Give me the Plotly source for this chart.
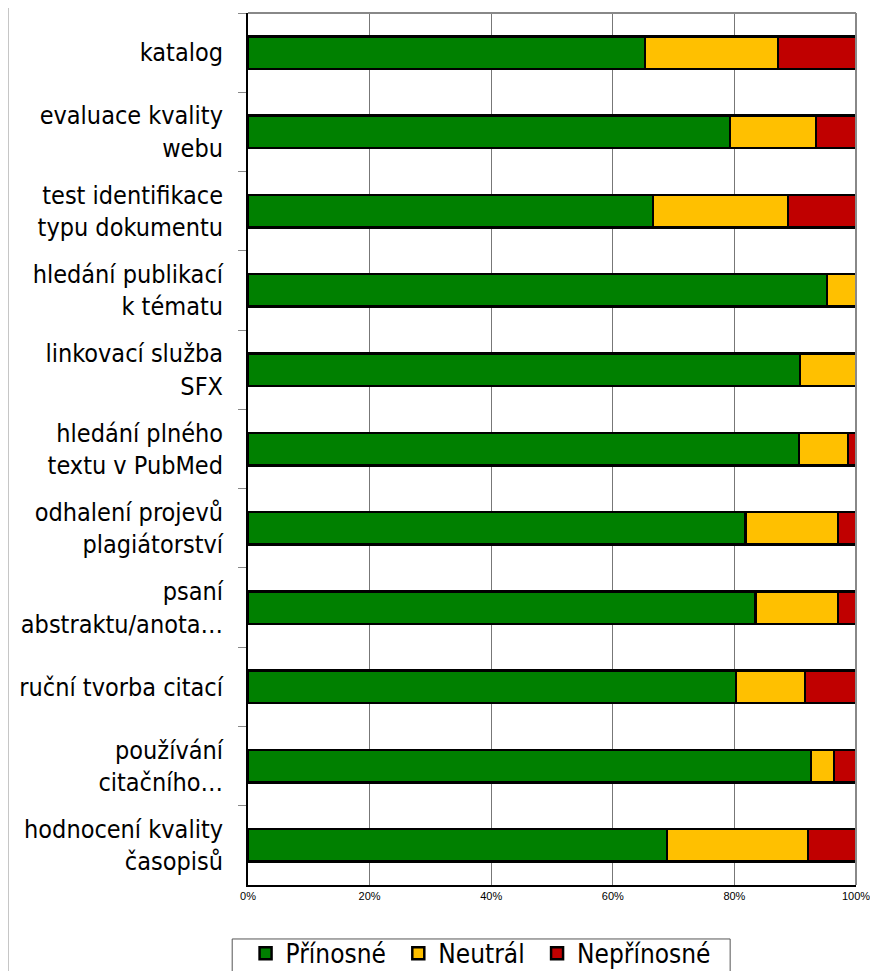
import plotly.graph_objects as go

categories = [
    "katalog",
    "evaluace kvality<br>webu",
    "test identifikace<br>typu dokumentu",
    "hledání publikací<br>k tématu",
    "linkovací služba<br>SFX",
    "hledání plného<br>textu v PubMed",
    "odhalení projevů<br>plagiátorství",
    "psaní<br>abstraktu/anota…",
    "ruční tvorba citací",
    "používání<br>citačního…",
    "hodnocení kvality<br>časopisů",
]
prinosne = [65.3, 79.3, 66.6, 95.2, 90.8, 90.6, 81.8, 83.5, 80.3, 92.6, 68.9]
neutral = [21.9, 14.1, 22.2, 4.8, 9.2, 8.1, 15.2, 13.5, 11.3, 3.8, 23.2]
neprinosne = [12.8, 6.6, 11.2, 0.0, 0.0, 1.3, 3.0, 3.0, 8.4, 3.6, 7.9]

series_names = ["Přínosné", "Neutrál", "Nepřínosné"]
series_colors = ["#008000", "#FFC000", "#C00000"]
series_values = [prinosne, neutral, neprinosne]
legend_pad = ["\u00a0", "\u00a0", ""]

fig = go.Figure()
for name, vals, col, pad in zip(series_names, series_values, series_colors, legend_pad):
    fig.add_trace(go.Bar(
        name=name + pad, y=categories, x=vals, orientation="h",
        marker=dict(color=col, line=dict(color="black", width=2.5)),
        width=0.41,
    ))

fig.update_layout(
    barmode="stack",
    width=878, height=1010,
    margin=dict(l=240, r=30, t=5, b=133),
    paper_bgcolor="white", plot_bgcolor="white",
    showlegend=True,
    legend=dict(
        orientation="h", x=-0.004, xanchor="left", y=-0.0515, yanchor="top",
        font=dict(family="DejaVu Sans Condensed, sans-serif", size=26, color="black"),
        borderwidth=0, bgcolor="rgba(0,0,0,0)",
        itemwidth=30, traceorder="normal",
    ),
    font=dict(family="DejaVu Sans Condensed, Tahoma, sans-serif", color="black"),
)
fig.update_xaxes(
    range=[0, 100], tickvals=[0, 20, 40, 60, 80, 100],
    ticktext=["0%", "20%", "40%", "60%", "80%", "100%"],
    tickfont=dict(family="Liberation Sans, Arial, sans-serif", size=11, color="black"),
    showgrid=True, gridcolor="#777777", gridwidth=1,
    showline=True, linecolor="black", linewidth=2,
    ticks="outside", ticklen=0,
    mirror=False, zeroline=False, fixedrange=True,
)
fig.update_yaxes(
    autorange="reversed",
    tickfont=dict(family="DejaVu Sans Condensed, Tahoma, sans-serif", size=25, color="black"),
    showline=True, linecolor="black", linewidth=2,
    ticks="outside", ticklen=8, tickcolor="#888888", tickson="boundaries",
    ticklabelstandoff=18,
    showgrid=False, fixedrange=True,
)
# top and right frame of the plot area
fig.add_shape(type="line", xref="paper", yref="paper", x0=0, x1=1, y0=1, y1=1,
              line=dict(color="#888888", width=2))
fig.add_shape(type="line", xref="paper", yref="paper", x0=1, x1=1, y0=0, y1=1,
              line=dict(color="#888888", width=2))
# outer chart frame on the left
fig.add_shape(type="line", xref="paper", yref="paper", x0=-0.395, x1=-0.395, y0=-0.16, y1=1.02,
              line=dict(color="#bbbbbb", width=2))
# legend frame
fig.add_shape(type="rect", xref="paper", yref="paper", x0=-0.026, x1=0.793, y0=-0.0619, y1=-0.14,
              line=dict(color="#555555", width=1), fillcolor="rgba(0,0,0,0)")

fig.write_html("out.html")
